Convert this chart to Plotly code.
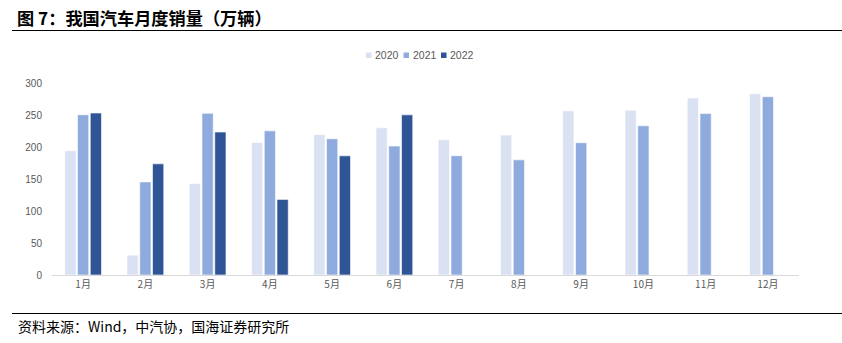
import plotly.graph_objects as go

months = ["1月", "2月", "3月", "4月", "5月", "6月", "7月", "8月", "9月", "10月", "11月", "12月"]
sales_2020 = [194.1, 31.0, 143.0, 207.0, 219.4, 230.0, 211.2, 218.6, 256.5, 257.3, 276.5, 283.1]
sales_2021 = [250.3, 145.5, 252.6, 225.2, 212.8, 201.5, 186.4, 179.9, 206.7, 233.2, 252.2, 278.6]
sales_2022 = [253.1, 173.7, 223.4, 118.1, 186.2, 250.2]
y_ticks = [0, 50, 100, 150, 200, 250, 300]

W, H = 842, 343
L, R, T, B = 52, 43, 83, 68
plot_w = W - L - R
plot_h = H - T - B


def px_x(p):
    return (p - L) / plot_w


def px_y(p):
    return (H - B - p) / plot_h


font_cn = "Noto Sans CJK SC"
font_num = "Liberation Sans, Arial, sans-serif"

fig = go.Figure()
series = [
    ("2020", sales_2020, "#DAE1F3"),
    ("2021", sales_2021, "#8FAADC"),
    ("2022", sales_2022, "#2F5597"),
]
for name, vals, color in series:
    fig.add_trace(go.Bar(
        name=name,
        x=months[:len(vals)],
        y=vals,
        marker=dict(color=color, line=dict(color="white", width=0.6)),
        showlegend=False,
    ))

fig.update_layout(
    width=W, height=H,
    margin=dict(l=L, r=R, t=T, b=B, pad=0),
    paper_bgcolor="white", plot_bgcolor="white",
    barmode="group", bargap=0.385, bargroupgap=0.12,
    font=dict(family=font_num, size=10, color="#595959"),
    showlegend=False,
    xaxis=dict(
        categoryorder="array", categoryarray=months,
        showline=True, linecolor="#D9D9D9", linewidth=1,
        ticks="", showgrid=False,
        tickfont=dict(family=font_cn, size=10, color="#595959"),
    ),
    yaxis=dict(
        range=[0, 300], tickvals=y_ticks,
        showgrid=False, zeroline=False, showline=False,
        ticks="", ticklabelstandoff=9,
        tickfont=dict(family=font_num, size=10, color="#595959"),
    ),
)

# compact legend: small square swatch followed by the series name
legend_left = [366, 403.5, 441]
for (name, _, color), lx in zip(series, legend_left):
    fig.add_shape(
        type="rect", xref="paper", yref="paper",
        x0=px_x(lx), x1=px_x(lx + 5.5), y0=px_y(58), y1=px_y(52.5),
        fillcolor=color, line=dict(width=0),
    )
    fig.add_annotation(
        text=name, xref="paper", yref="paper",
        x=px_x(lx + 7), y=px_y(55.5), xanchor="left", yanchor="middle",
        showarrow=False, font=dict(family=font_num, size=10.5, color="#595959"),
    )

# heading, source note and rule lines
fig.add_annotation(
    text="<b>图 7：我国汽车月度销量（万辆）</b>",
    xref="paper", yref="paper", x=px_x(15), y=px_y(18),
    xanchor="left", yanchor="middle", showarrow=False,
    font=dict(family=font_cn, size=17.2, color="#000000"),
)
fig.add_annotation(
    text="资料来源：Wind，中汽协，国海证券研究所",
    xref="paper", yref="paper", x=px_x(16), y=px_y(326),
    xanchor="left", yanchor="middle", showarrow=False,
    font=dict(family=font_cn, size=14, color="#000000"),
)
for py in (30.5, 313.5):
    fig.add_shape(
        type="line", xref="paper", yref="paper",
        x0=px_x(12), x1=px_x(842), y0=px_y(py), y1=px_y(py),
        line=dict(color="#000000", width=1),
    )

fig.write_html("out.html")
